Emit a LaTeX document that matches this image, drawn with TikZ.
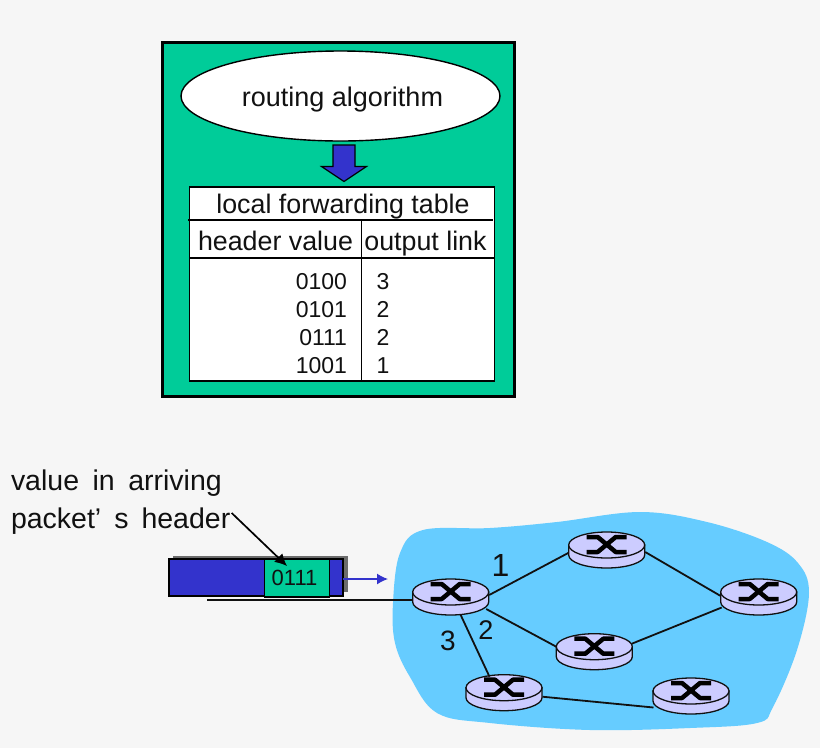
\documentclass[tikz,border=0pt]{standalone}
\usepackage{fontspec}
\setmainfont{Liberation Sans}
\usetikzlibrary{arrows.meta,calc,shapes.geometric}
\definecolor{bgc}{HTML}{F6F6F6}
\definecolor{greenc}{HTML}{00CC99}
\definecolor{bluec}{HTML}{3333CC}
\definecolor{cloudc}{HTML}{66CCFF}
\definecolor{routerc}{HTML}{CCCCFF}
\definecolor{inkc}{HTML}{111111}
\tikzset{
  lnk/.style={draw=inkc,line width=1.8pt},
  tline/.style={draw=black,line width=1.5pt},
  rtop/.style={ellipse,draw=inkc,line width=1.3pt,fill=routerc,minimum width=76pt,minimum height=26pt,inner sep=0pt,outer sep=0pt},
  lbl/.style={inner sep=0pt,outer sep=0pt,text=inkc,font=\fontsize{27}{30}\selectfont},
  cell/.style={inner sep=0pt,outer sep=0pt,text=inkc,font=\fontsize{26.8}{30}\selectfont},
  num/.style={inner sep=0pt,outer sep=0pt,text=inkc,font=\fontsize{23}{26}\selectfont},
}
\newcommand{\router}[3]{%
  \fill[routerc,draw=inkc,line width=1.3pt] ($(#2,#3)+(-38,0)$) -- ++(0,10) arc[start angle=180,end angle=0,x radius=38,y radius=13] -- ++(0,-10) -- cycle;
  \node[rtop] (#1) at (#2,#3) {};
  \draw[black,line width=4.5pt,line cap=butt,line join=round]
    ($(#1)+(-20,-8)$) -- ++(11,0) -- ($(#1)+(9,7)$) -- ++(11,0)
    ($(#1)+(-20,7)$) -- ++(11,0) -- ($(#1)+(9,-8)$) -- ++(11,0);
}
\begin{document}
\begin{tikzpicture}[x=1pt,y=-1pt]
\useasboundingbox (0,0) rectangle (820,748);
\fill[bgc] (0,0) rectangle (820,748);
% upper frame
\node[draw=black,line width=3pt,fill=greenc,minimum width=352pt,minimum height=354pt,inner sep=0pt,outer sep=0pt] (frame) at (338.5,219.5) {};
\node[ellipse,draw=black,line width=1.4pt,fill=white,minimum width=319pt,minimum height=90pt,inner sep=0pt] (algo) at (340.5,96) {};
\node[lbl,anchor=base] (algotext) at (342.5,106.5) {routing algorithm};
\fill[bluec,draw=black,line width=1.2pt] (333,145) -- (355,145) -- (355,166.5) -- (366.5,166.5) -- (344,181.5) -- (321.5,166.5) -- (333,166.5) -- cycle;
\node[draw=black,line width=1.5pt,fill=white,minimum width=305pt,minimum height=194pt,inner sep=0pt,outer sep=0pt] (table) at (341.8,284) {};
\coordinate (h1l) at (188,220);
\coordinate (h1r) at (493,220);
\coordinate (h2l) at (189.3,258);
\coordinate (h2r) at (494.3,258);
\coordinate (vt) at (361.5,220);
\coordinate (vb) at (361.5,381);
\draw[tline] (h1l) -- (h1r);
\draw[tline] (h2l) -- (h2r);
\draw[tline] (vt) -- (vb);
\node[cell,anchor=base] (title) at (343,213) {local forwarding table};
\node[cell,anchor=base] (hv) at (275.5,250) {header value};
\node[cell,anchor=base] (ol) at (425.5,250) {output link};
\node[num,anchor=base east] (a1) at (347,289.5) {0100};
\node[num,anchor=base east] (a2) at (347,317.5) {0101};
\node[num,anchor=base east] (a3) at (347,345) {0111};
\node[num,anchor=base east] (a4) at (347,373) {1001};
\node[num,anchor=base west] (b1) at (376.5,289.5) {3};
\node[num,anchor=base west] (b2) at (376.5,317.5) {2};
\node[num,anchor=base west] (b3) at (376.5,345) {2};
\node[num,anchor=base west] (b4) at (376.5,373) {1};
% network
\fill[cloudc] plot[smooth cycle,tension=0.6] coordinates {(423,530) (490,528) (557,522) (640,512) (707,522) (767,542) (798,563) (809,593) (797,650) (773,707) (757,723) (690,728) (590,730) (490,723) (437,713) (410,677) (395,643) (393,603) (400,553)};
\router{ra}{450.7}{592}
\router{rb}{606.7}{545}
\router{rc}{758.7}{592}
\router{rd}{594.3}{646.7}
\router{re}{504}{687.7}
\router{rf}{691}{691}
\draw[lnk] ([shift={(38.5,3)}]ra.center) -- ([shift={(-38.5,8)}]rb.center);
\draw[lnk] ([shift={(38.5,7)}]rb.center) -- ([shift={(-38,4)}]rc.center);
\draw[lnk] ([shift={(35.5,17)}]ra.center) -- ([shift={(-38,0)}]rd.center);
\draw[lnk] ([shift={(37.5,-3)}]rd.center) -- ([shift={(-37,15.5)}]rc.center);
\draw[lnk] ([shift={(10,23)}]ra.center) -- ([shift={(-14.5,-11)}]re.center);
\draw[lnk] ([shift={(38.5,9)}]re.center) -- ([shift={(-37.5,16.5)}]rf.center);
\coordinate (instart) at (207,600);
\draw[lnk] (instart) -- ([shift={(-38,8)}]ra.center);
\node[lbl,anchor=base,font=\fontsize{32}{36}\selectfont] (n1) at (500.5,576) {1};
\node[lbl,anchor=base] (n2) at (486,639.5) {2};
\node[lbl,anchor=base,font=\fontsize{28}{32}\selectfont] (n3) at (448,650.5) {3};
% packet
\fill[gray!85!black] (173,556) rectangle (348,592);
\node[draw=black,line width=1.5pt,fill=bluec,minimum width=174pt,minimum height=37pt,inner sep=0pt,outer sep=0pt] (pkt) at (256,577.5) {};
\node[draw=black,line width=1.5pt,fill=greenc,minimum width=65pt,minimum height=38pt,inner sep=0pt,outer sep=0pt] (hdr) at (297,578) {};
\node[num,anchor=base,font=\fontsize{22}{25}\selectfont] (hdrtext) at (294.5,585) {0111};
\coordinate (flowend) at (388,579);
\draw[bluec,line width=1.4pt,-{Latex[length=11pt,width=11pt]}] (pkt.east |- flowend) -- (flowend);
\node[lbl,anchor=base west,font=\fontsize{28.5}{32}\selectfont] (vtext) at (11,490.5) {\spaceskip=13.5pt value in arriving};
\node[lbl,anchor=base west,font=\fontsize{28.5}{32}\selectfont] (ptext) at (11,528.5) {\spaceskip=13pt packet’ s header};
\coordinate (calloutstart) at (231.7,513);
\coordinate (calloutend) at (287,566);
\draw[black,line width=1.7pt,-{Latex[length=12pt,width=12pt]}] (calloutstart) -- (calloutend);
\end{tikzpicture}
\end{document}
